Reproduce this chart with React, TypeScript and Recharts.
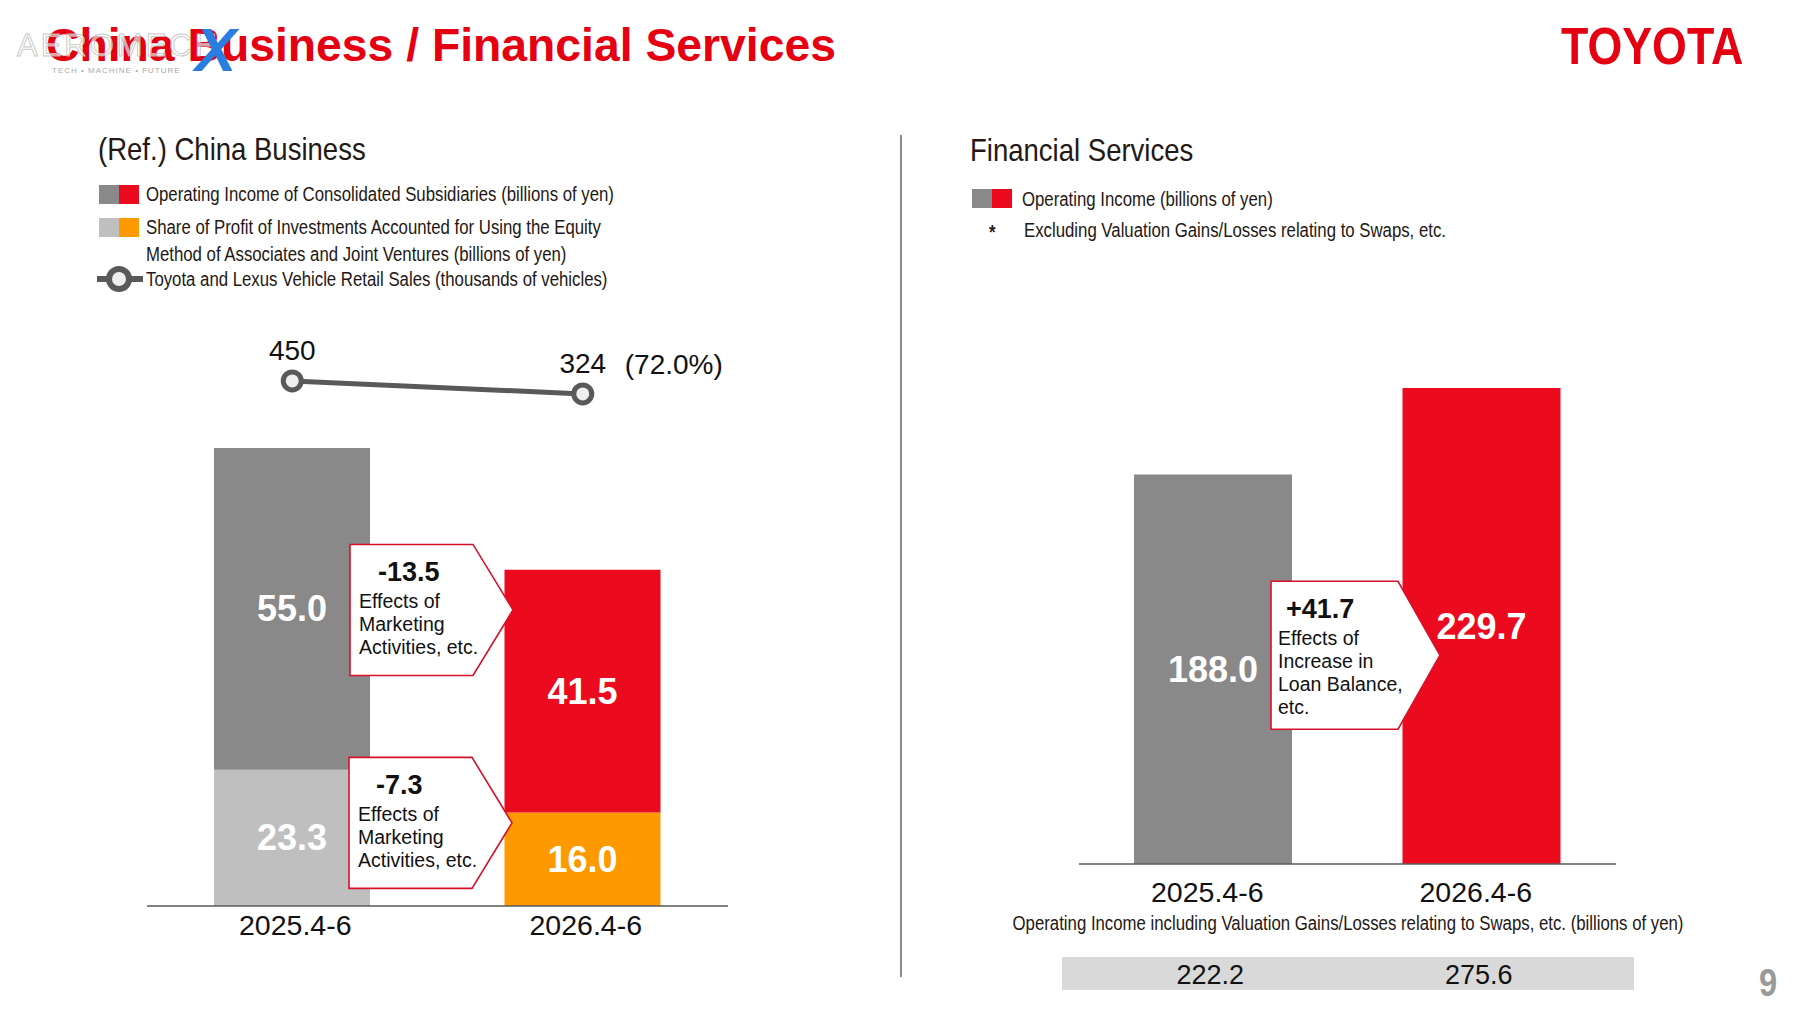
import { Bar, Cell, ComposedChart, LabelList, Line, XAxis, YAxis } from 'recharts';

const periods = ['2025.4-6', '2026.4-6'];
const consolidatedIncome = [55.0, 41.5];
const equityProfit = [23.3, 16.0];
const retailSales = [450, 324];
const financialIncome = [188.0, 229.7];
const financialIncomeInclSwaps = [222.2, 275.6];

const chinaData = periods.map((period, i) => ({
    period,
    consolidated: consolidatedIncome[i],
    equity: equityProfit[i],
    sales: retailSales[i],
}));

const financeData = periods.map((period, i) => ({
    period,
    income: financialIncome[i],
    inclSwaps: financialIncomeInclSwaps[i],
}));

const CONSOLIDATED_COLORS = ['#898989', '#eb0a1e'];
const EQUITY_COLORS = ['#bfbfbf', '#ff9900'];
const FINANCE_COLORS = ['#898989', '#eb0a1e'];
const TITLE_RED = '#e50012';
const CALLOUT_RED = '#d8112a';

const SANS = "'Liberation Sans', Arial, sans-serif";
// no Arial Narrow here, so squeeze Liberation Sans instead
const NARROW_X = 0.86;

const signed = (v: number) => (v > 0 ? '+' : '') + v.toFixed(1);

const Txt = ({ x, y, size, children, style, sx = NARROW_X }: any) => (
    <div
        style={{
            position: 'absolute',
            left: x,
            top: y,
            transform: `translateY(-50%) scaleX(${sx})`,
            transformOrigin: 'left center',
            fontSize: size,
            lineHeight: 1.15,
            whiteSpace: 'nowrap',
            fontFamily: SANS,
            color: '#231815',
            ...style,
        }}
    >
        {children}
    </div>
);

const Swatch = ({ x, y, colors }: any) => (
    <div style={{ position: 'absolute', left: x, top: y, display: 'flex' }}>
        <div style={{ width: 20, height: 19, background: colors[0] }} />
        <div style={{ width: 20, height: 19, background: colors[1] }} />
    </div>
);

// pentagon arrow box with a number and a few lines of text
const Callout = ({ x, cy, w, tip, h, value, lines, numDx, textDx }: any) => {
    const top = cy - h / 2;
    return (
        <g>
            <path
                d={`M${x},${top} H${x + w} L${x + w + tip},${cy} L${x + w},${top + h} H${x} Z`}
                fill="#fff"
                stroke={CALLOUT_RED}
                strokeWidth={1.6}
            />
            <text
                x={x + numDx}
                y={top + 28}
                dominantBaseline="central"
                fontFamily={SANS}
                fontWeight="bold"
                fontSize={27}
                fill="#111"
            >
                {value}
            </text>
            {lines.map((line: string, i: number) => (
                <text
                    key={i}
                    x={x + textDx}
                    y={top + 57 + i * 23}
                    dominantBaseline="central"
                    fontFamily={SANS}
                    fontSize={19.5}
                    fill="#111"
                >
                    {line}
                </text>
            ))}
        </g>
    );
};

const barValue = (props: any) => {
    const { x, y, width, height, value } = props;
    return (
        <text
            x={x + width / 2}
            y={y + height / 2}
            textAnchor="middle"
            dominantBaseline="central"
            fontFamily={SANS}
            fontWeight="bold"
            fontSize={36}
            fill="#fff"
        >
            {Number(value).toFixed(1)}
        </text>
    );
};

const consolidatedLabel = (props: any) => {
    const { x, y, width, height, index } = props;
    if (index !== 0) return barValue(props);
    const pxPerUnit = height / consolidatedIncome[0];
    const equityCenter = y + height + (equityProfit[0] * pxPerUnit) / 2;
    return (
        <g>
            {barValue(props)}
            <Callout
                x={x + width - 20}
                cy={y + height / 2 + 1}
                w={123}
                tip={40}
                h={131}
                value={signed(consolidatedIncome[1] - consolidatedIncome[0])}
                lines={['Effects of', 'Marketing', 'Activities, etc.']}
                numDx={28}
                textDx={9}
            />
            <Callout
                x={x + width - 21}
                cy={equityCenter - 15}
                w={123}
                tip={40}
                h={131}
                value={signed(equityProfit[1] - equityProfit[0])}
                lines={['Effects of', 'Marketing', 'Activities, etc.']}
                numDx={27}
                textDx={9}
            />
        </g>
    );
};

const salesLabel = (props: any) => {
    const { x, y, value, index } = props;
    const ratio = ((retailSales[retailSales.length - 1] / retailSales[0]) * 100).toFixed(1);
    return (
        <g>
            <text
                x={x}
                y={y - 30}
                textAnchor="middle"
                dominantBaseline="central"
                fontFamily={SANS}
                fontSize={28}
                fill="#111"
            >
                {value}
            </text>
            {index === retailSales.length - 1 && (
                <text
                    x={x + 42}
                    y={y - 29}
                    dominantBaseline="central"
                    fontFamily={SANS}
                    fontSize={28}
                    fill="#111"
                >
                    {`(${ratio}%)`}
                </text>
            )}
        </g>
    );
};

const financeLabel = (props: any) => {
    const { x, y, width, height, index } = props;
    if (index !== 0) return barValue(props);
    return (
        <g>
            {barValue(props)}
            <Callout
                x={x + width - 21}
                cy={y + height / 2 - 14}
                w={127}
                tip={42}
                h={148}
                value={signed(financialIncome[1] - financialIncome[0])}
                lines={['Effects of', 'Increase in', 'Loan Balance,', 'etc.']}
                numDx={15}
                textDx={7}
            />
        </g>
    );
};

const chinaTick = (props: any) => {
    const { x, y, payload } = props;
    return (
        <text
            x={x + 3}
            y={y + 19}
            textAnchor="middle"
            dominantBaseline="central"
            fontFamily={SANS}
            fontSize={28.5}
            fill="#111"
        >
            {payload.value}
        </text>
    );
};

const financeTick = (props: any) => {
    const { x, y, payload, index } = props;
    return (
        <g>
            <text
                x={x - 6}
                y={y + 28}
                textAnchor="middle"
                dominantBaseline="central"
                fontFamily={SANS}
                fontSize={28.5}
                fill="#111"
            >
                {payload.value}
            </text>
            <text
                x={x - 3}
                y={y + 111}
                textAnchor="middle"
                dominantBaseline="central"
                fontFamily={SANS}
                fontSize={27}
                fill="#111"
            >
                {financialIncomeInclSwaps[index].toFixed(1)}
            </text>
        </g>
    );
};

const ChinaChart = () => (
    <div style={{ position: 'absolute', left: 147, top: 330 }}>
        <ComposedChart
            width={581}
            height={626}
            data={chinaData}
            margin={{ top: 0, right: 0, bottom: 0, left: 0 }}
            barSize={156}
        >
            <XAxis
                dataKey="period"
                height={50}
                axisLine={{ stroke: '#595959', strokeWidth: 1.5 }}
                tickLine={false}
                tickSize={0}
                tickMargin={0}
                tick={chinaTick}
            />
            <YAxis yAxisId="income" hide domain={[0, 98.5]} />
            <YAxis yAxisId="sales" hide domain={[-4639, 944]} />
            <Bar
                yAxisId="income"
                dataKey="equity"
                stackId="china"
                isAnimationActive={false}
            >
                {chinaData.map((_, i) => (
                    <Cell key={`eq-${i}`} fill={EQUITY_COLORS[i]} />
                ))}
                <LabelList dataKey="equity" content={barValue} />
            </Bar>
            <Bar
                yAxisId="income"
                dataKey="consolidated"
                stackId="china"
                isAnimationActive={false}
            >
                {chinaData.map((_, i) => (
                    <Cell key={`co-${i}`} fill={CONSOLIDATED_COLORS[i]} />
                ))}
                <LabelList dataKey="consolidated" content={consolidatedLabel} />
            </Bar>
            <Line
                yAxisId="sales"
                dataKey="sales"
                stroke="#595959"
                strokeWidth={5}
                dot={{ r: 9, fill: '#eeeeee', stroke: '#595959', strokeWidth: 5 }}
                isAnimationActive={false}
            >
                <LabelList dataKey="sales" content={salesLabel} />
            </Line>
        </ComposedChart>
    </div>
);

const FinanceChart = () => (
    <div style={{ position: 'absolute', left: 1079, top: 340 }}>
        <ComposedChart
            width={537}
            height={664}
            data={financeData}
            margin={{ top: 0, right: 0, bottom: 0, left: 0 }}
            barSize={158}
        >
            <XAxis
                dataKey="period"
                height={140}
                axisLine={{ stroke: '#595959', strokeWidth: 1.5 }}
                tickLine={false}
                tickSize={0}
                tickMargin={0}
                tick={financeTick}
            />
            <YAxis hide domain={[0, 252.9]} />
            <Bar dataKey="income" isAnimationActive={false}>
                {financeData.map((_, i) => (
                    <Cell key={`fi-${i}`} fill={FINANCE_COLORS[i]} />
                ))}
                <LabelList dataKey="income" content={financeLabel} />
            </Bar>
        </ComposedChart>
    </div>
);

const App = () => {
    return (
        <div
            style={{
                position: 'absolute',
                left: 0,
                top: 0,
                width: 1800,
                height: 1013,
                background: '#fff',
                overflow: 'hidden',
            }}
        >
            {/* header */}
            <Txt
                x={46}
                y={46}
                size={46.3}
                sx={1}
                style={{ fontWeight: 'bold', color: TITLE_RED }}
            >
                China Business / Financial Services
            </Txt>
            {/* watermark laid over the title */}
            <Txt
                x={17}
                y={46}
                size={31}
                sx={1}
                style={{
                    color: 'rgba(255,255,255,0.6)',
                    letterSpacing: 3,
                    WebkitTextStroke: '1px rgba(190,190,190,0.85)',
                }}
            >
                AEROMECH
            </Txt>
            <Txt
                x={195}
                y={50}
                size={62}
                sx={1}
                style={{ fontWeight: 'bold', fontStyle: 'italic', color: '#2a7de1' }}
            >
                X
            </Txt>
            <Txt x={52} y={71} size={8} sx={1} style={{ color: '#aaa', letterSpacing: 1 }}>
                TECH • MACHINE • FUTURE
            </Txt>
            <Txt
                x={1561}
                y={47}
                size={52}
                sx={0.86}
                style={{ fontWeight: 'bold', color: TITLE_RED }}
            >
                TOYOTA
            </Txt>

            {/* left panel heading and legend */}
            <Txt x={98} y={149} size={32}>
                (Ref.) China Business
            </Txt>
            <Swatch x={99} y={185} colors={CONSOLIDATED_COLORS} />
            <Txt x={146} y={194} size={19.5}>
                Operating Income of Consolidated Subsidiaries (billions of yen)
            </Txt>
            <Swatch x={99} y={218} colors={EQUITY_COLORS} />
            <Txt x={146} y={227} size={19.5}>
                Share of Profit of Investments Accounted for Using the Equity
            </Txt>
            <Txt x={146} y={254} size={19.5}>
                Method of Associates and Joint Ventures (billions of yen)
            </Txt>
            <svg style={{ position: 'absolute', left: 95, top: 264 }} width={50} height={30}>
                <line x1={2} y1={15} x2={48} y2={15} stroke="#595959" strokeWidth={6} />
                <circle cx={24} cy={15} r={10} fill="#eeeeee" stroke="#595959" strokeWidth={6} />
            </svg>
            <Txt x={146} y={279} size={19.5}>
                Toyota and Lexus Vehicle Retail Sales (thousands of vehicles)
            </Txt>

            <ChinaChart />

            {/* divider */}
            <div
                style={{
                    position: 'absolute',
                    left: 900,
                    top: 135,
                    width: 1.5,
                    height: 842,
                    background: '#8c8c8c',
                }}
            />

            {/* right panel heading and legend */}
            <Txt x={970} y={150} size={32}>
                Financial Services
            </Txt>
            <Swatch x={972} y={189} colors={FINANCE_COLORS} />
            <Txt x={1022} y={199} size={19.5}>
                Operating Income (billions of yen)
            </Txt>
            <Txt x={989} y={232} size={19.5} style={{ fontWeight: 'bold' }}>
                *
            </Txt>
            <Txt x={1024} y={230} size={19.5}>
                Excluding Valuation Gains/Losses relating to Swaps, etc.
            </Txt>

            <div
                style={{
                    position: 'absolute',
                    left: 1062,
                    top: 957,
                    width: 572,
                    height: 33,
                    background: '#d9d9d9',
                }}
            />
            <div
                style={{
                    position: 'absolute',
                    left: 1048,
                    width: 600,
                    top: 923,
                    transform: `translateY(-50%) scaleX(${NARROW_X})`,
                    transformOrigin: 'center center',
                    fontFamily: SANS,
                    fontSize: 19.5,
                    lineHeight: 1.15,
                    color: '#231815',
                    whiteSpace: 'nowrap',
                    display: 'flex',
                    justifyContent: 'center',
                }}
            >
                Operating Income including Valuation Gains/Losses relating to Swaps, etc. (billions of yen)
            </div>

            <FinanceChart />

            <Txt x={1759} y={984} size={38} style={{ fontWeight: 'bold', color: '#9a9a9a' }}>
                9
            </Txt>
        </div>
    );
};

export default App;
